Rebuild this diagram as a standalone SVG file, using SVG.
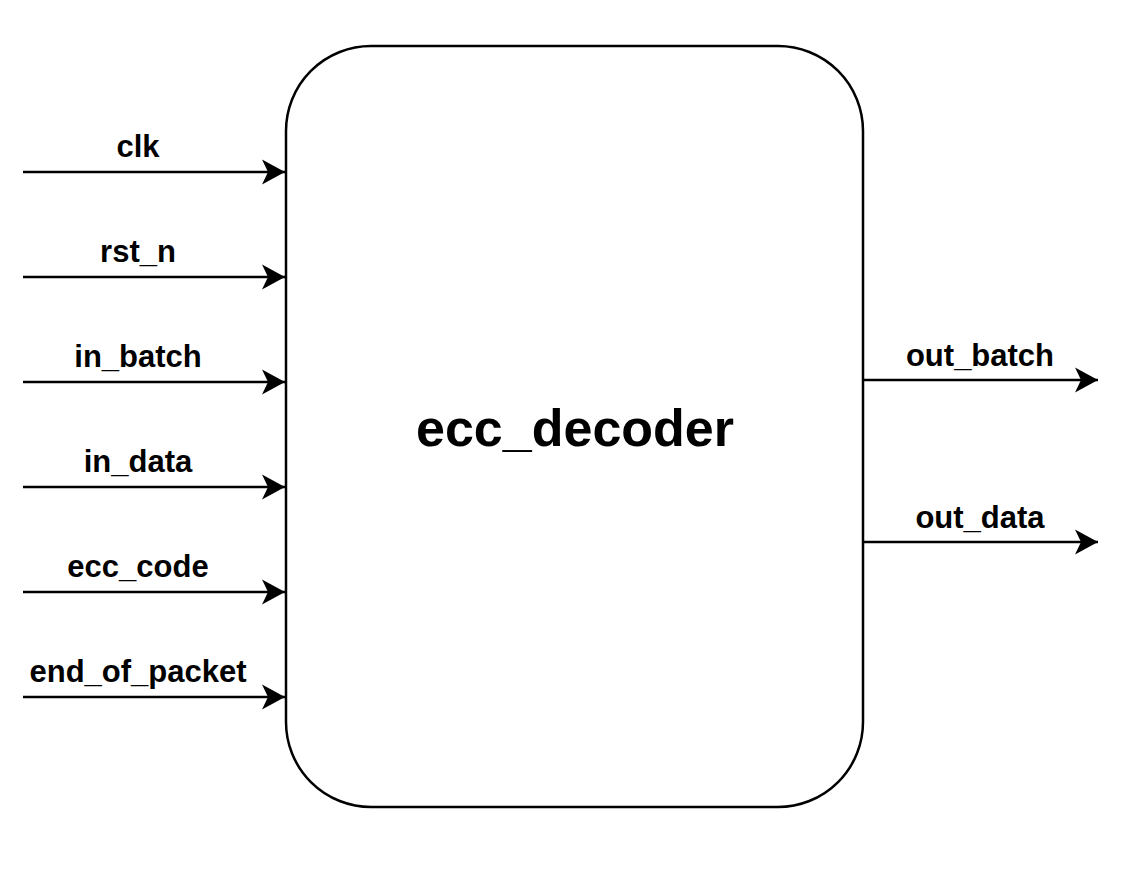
<svg xmlns="http://www.w3.org/2000/svg" width="1141" height="876" viewBox="0 0 1141 876">
<style>
.lbl{font-family:"Liberation Sans",Arial,sans-serif;font-weight:bold;font-size:31px;fill:#000;text-anchor:middle}
.title{font-family:"Liberation Sans",Arial,sans-serif;font-weight:bold;font-size:52px;fill:#000;text-anchor:middle}
.wire{stroke:#000;stroke-width:2.5;fill:none}
</style>
<defs>
<marker id="arr" markerUnits="userSpaceOnUse" markerWidth="30" markerHeight="30" viewBox="-25 -15 30 30" refX="0" refY="0" orient="auto">
<path d="M0,0 L-23,-12.5 L-17,0 L-23,12.5 Z" fill="#000"/>
</marker>
</defs>
<rect width="1141" height="876" fill="#fff"/>
<g id="ecc_decoder">
<rect x="286" y="46" width="577" height="761" rx="85" ry="85" fill="#fff" stroke="#000" stroke-width="2.5"/>
<text class="title" x="575" y="446">ecc_decoder</text>
</g>
<g id="connectors">
<line class="wire" x1="23" y1="172" x2="285" y2="172" marker-end="url(#arr)"/>
<line class="wire" x1="23" y1="277" x2="285" y2="277" marker-end="url(#arr)"/>
<line class="wire" x1="23" y1="382" x2="285" y2="382" marker-end="url(#arr)"/>
<line class="wire" x1="23" y1="487" x2="285" y2="487" marker-end="url(#arr)"/>
<line class="wire" x1="23" y1="592" x2="285" y2="592" marker-end="url(#arr)"/>
<line class="wire" x1="23" y1="697" x2="285" y2="697" marker-end="url(#arr)"/>
<line class="wire" x1="863" y1="380" x2="1098" y2="380" marker-end="url(#arr)"/>
<line class="wire" x1="863" y1="542" x2="1098" y2="542" marker-end="url(#arr)"/>
</g>
<g id="labels">
<text class="lbl" x="138" y="157">clk</text>
<text class="lbl" x="138" y="262">rst_n</text>
<text class="lbl" x="138" y="367">in_batch</text>
<text class="lbl" x="138" y="472">in_data</text>
<text class="lbl" x="138" y="577">ecc_code</text>
<text class="lbl" x="138" y="682">end_of_packet</text>
<text class="lbl" x="980" y="366">out_batch</text>
<text class="lbl" x="980" y="528">out_data</text>
</g>
</svg>
